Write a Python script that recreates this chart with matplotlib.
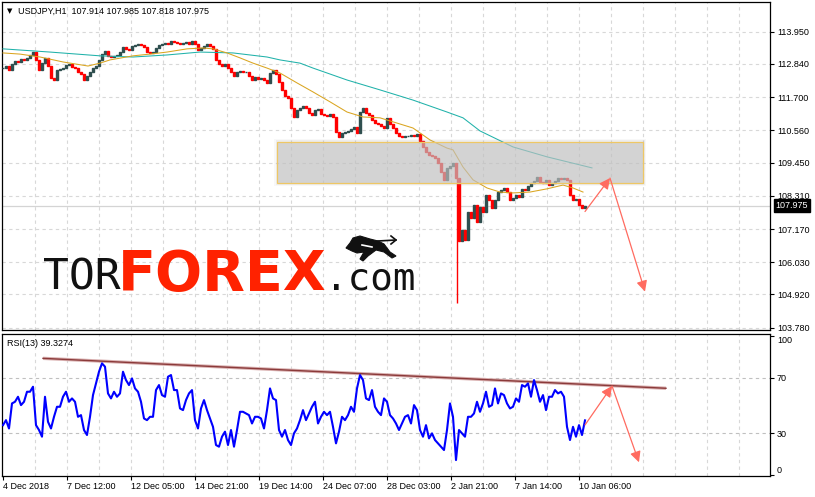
import numpy as np
import matplotlib
matplotlib.use('Agg')
import matplotlib.pyplot as plt
from matplotlib.patches import Rectangle, Polygon
from matplotlib.lines import Line2D

plt.rcParams['font.family'] = ['Liberation Sans', 'DejaVu Sans']

# USDJPY H1 closes, one reading every 3 bars (4 Dec 2018 -> 10 Jan 2019)
bar_step = 3
closes = [
    112.70, 112.77, 112.63, 112.84, 112.94, 112.91, 113.01, 112.98, 113.05, 113.15,
    113.25, 112.98, 112.63, 112.87, 113.05, 112.77, 112.36, 112.29, 112.63, 112.67,
    112.70, 112.81, 112.84, 112.74, 112.70, 112.57, 112.50, 112.29, 112.43, 112.57,
    112.70, 112.77, 112.98, 113.18, 113.29, 113.12, 113.08, 113.12, 113.15, 113.25,
    113.43, 113.36, 113.32, 113.46, 113.49, 113.53, 113.49, 113.43, 113.25, 113.22,
    113.25, 113.39, 113.49, 113.53, 113.56, 113.53, 113.63, 113.60, 113.56, 113.53,
    113.56, 113.60, 113.53, 113.63, 113.53, 113.32, 113.39, 113.46, 113.53, 113.46,
    113.36, 112.98, 112.84, 112.77, 112.84, 112.70, 112.57, 112.43, 112.57, 112.60,
    112.57, 112.57, 112.43, 112.29, 112.39, 112.33, 112.36, 112.29, 112.19, 112.53,
    112.63, 112.50, 112.22, 111.95, 111.74, 111.67, 111.33, 111.02, 111.26, 111.33,
    111.40, 111.33, 111.16, 111.09, 111.26, 111.29, 111.12, 111.09, 111.05, 111.12,
    111.02, 110.50, 110.33, 110.47, 110.50, 110.54, 110.61, 110.68, 110.47, 111.19,
    111.33, 111.16, 111.09, 110.92, 110.81, 110.78, 110.71, 110.64, 110.99, 110.78,
    110.64, 110.47, 110.37, 110.33, 110.37, 110.37, 110.40, 110.37, 110.44, 110.20,
    109.99, 109.82, 109.71, 109.68, 109.61, 109.44, 109.13, 108.86, 109.27, 109.34,
    109.44, 108.92, 106.75, 107.14, 106.79, 107.76, 107.55, 108.00, 107.41, 107.93,
    107.76, 108.34, 108.17, 107.89, 108.17, 108.44, 108.51, 108.58, 108.44, 108.17,
    108.24, 108.34, 108.27, 108.55, 108.51, 108.65, 108.75, 108.82, 108.96, 108.79,
    108.75, 108.86, 108.68, 108.75, 108.82, 108.92, 108.89, 108.92, 108.86, 108.34,
    108.17, 108.20, 108.00, 107.89, 107.975]

# 3 Jan flash crash: bar and its low
crash_bar = 454
crash_high = 108.92
crash_low = 104.63

# RSI(13), same sampling
rsi13 = [
    35.9, 39.5, 33.5, 51.5, 52.7, 56.3, 50.3, 52.7, 59.9, 59.9,
    63.5, 35.9, 32.4, 27.6, 56.3, 38.3, 33.5, 41.9, 49.1, 49.1,
    56.3, 59.9, 52.7, 55.1, 52.7, 41.9, 43.1, 32.4, 28.8, 41.9,
    57.5, 65.9, 74.3, 80.3, 77.9, 58.7, 55.1, 59.9, 56.3, 58.7,
    74.3, 68.3, 64.7, 69.5, 62.3, 59.9, 52.7, 40.7, 39.5, 41.9,
    41.9, 61.1, 64.7, 57.5, 56.3, 70.7, 71.9, 61.1, 61.1, 47.9,
    46.7, 53.9, 58.7, 61.1, 39.5, 33.5, 47.9, 53.9, 46.7, 40.7,
    34.7, 21.6, 20.4, 27.6, 31.2, 21.6, 32.4, 20.4, 32.4, 45.5,
    45.5, 44.3, 43.1, 37.1, 41.9, 41.9, 40.7, 33.5, 46.7, 62.3,
    55.1, 53.9, 32.4, 27.6, 32.4, 25.2, 21.6, 30.0, 33.5, 39.5,
    46.7, 39.5, 44.3, 49.1, 52.7, 37.1, 41.9, 45.5, 43.1, 45.5,
    34.7, 22.8, 31.2, 41.9, 39.5, 43.1, 49.1, 45.5, 62.3, 71.9,
    68.3, 55.1, 53.9, 61.1, 49.1, 45.5, 43.1, 55.1, 52.7, 43.1,
    40.7, 37.1, 32.4, 37.1, 41.9, 43.1, 37.1, 50.3, 46.7, 32.4,
    27.6, 35.9, 26.4, 30.0, 25.2, 22.8, 20.4, 18.0, 32.4, 51.5,
    41.9, 10.8, 32.4, 30.0, 27.6, 41.9, 41.9, 44.3, 52.7, 45.5,
    51.5, 59.9, 49.1, 50.3, 62.3, 51.5, 58.7, 57.5, 51.5, 47.9,
    49.1, 55.1, 52.7, 64.7, 63.5, 65.9, 56.3, 68.3, 61.1, 52.7,
    57.5, 46.7, 56.3, 56.3, 61.1, 58.7, 59.9, 56.3, 34.7, 25.2,
    34.7, 27.6, 35.9, 28.8, 39.33]

# moving averages (bar index, price)
ma_fast_bars = [0, 17, 37, 60, 85, 97, 107, 130, 147, 164, 184, 200, 210, 224, 237,
                250, 264, 277, 294, 310, 327, 344, 360, 377, 394, 410, 427, 444, 450,
                460, 470, 484, 497, 510, 527, 544, 560, 570, 580]
ma_fast = [113.22, 113.18, 113.08, 112.91, 112.77, 112.87, 112.98, 113.12, 113.18, 113.25,
           113.36, 113.39, 113.36, 113.22, 113.05, 112.87, 112.70, 112.53, 112.19, 111.88,
           111.54, 111.19, 111.02, 110.99, 110.81, 110.64, 110.23, 109.95, 109.89, 109.30,
           108.86, 108.58, 108.44, 108.41, 108.44, 108.55, 108.68, 108.58, 108.44]
ma_slow_bars = [0, 47, 97, 130, 164, 197, 230, 264, 277, 297, 310, 344, 377, 410, 444,
                460, 477, 510, 544, 589]
ma_slow = [113.36, 113.25, 113.12, 113.08, 113.15, 113.25, 113.22, 113.08, 112.98, 112.87,
           112.70, 112.29, 111.95, 111.60, 111.19, 110.99, 110.54, 109.99, 109.65, 109.27]

price_ticks = [113.950, 112.840, 111.700, 110.560, 109.450, 108.310, 107.170, 106.030,
               104.920, 103.780]
rsi_ticks = [0, 30, 70, 100]
time_labels = ['4 Dec 2018', '7 Dec 12:00', '12 Dec 05:00', '14 Dec 21:00', '19 Dec 14:00',
               '24 Dec 07:00', '28 Dec 03:00', '2 Jan 21:00', '7 Jan 14:00', '10 Jan 06:00']
label_every = 64
last_price = 107.975
last_rsi = 39.3274
ohlc_text = '107.914 107.985 107.818 107.975'

# drawn objects
zone = (274, 640, 108.74, 110.17)          # bar from, bar to, low, high
price_path = [(582, 107.77), (607, 108.92), (642, 105.02)]
rsi_path = [(582, 36.0), (609, 64.0), (636, 9.2)]
rsi_trend = [(40, 83.9), (663, 62.4)]

W, H = 815, 497
fig = plt.figure(figsize=(W / 100, H / 100), dpi=100)


def px_axes(l, t, r, b):
    return fig.add_axes([l / W, 1 - b / H, (r - l) / W, (b - t) / H])


def fx(x):
    return x / W


def fy(y):
    return 1 - y / H


ax = px_axes(2, 2, 770, 330)
ax2 = px_axes(2, 334, 770, 476)

grid_kw = dict(color='#d8d8d8', lw=0.8, ls=(0, (3, 3)), zorder=0)
for a in (ax, ax2):
    a.set_xlim(-1, 767)
    for gx in range(32, 768, 32):
        a.axvline(gx, **grid_kw)
    for s in a.spines.values():
        s.set_linewidth(0.9)
        s.set_color('black')

# ---- price panel
ax.set_ylim(103.70, 114.97)
for p in price_ticks:
    ax.axhline(p, **grid_kw)
ax.axhline(last_price, color='#d4d4d4', lw=0.9, zorder=1)

x = np.arange(len(closes)) * bar_step
c = np.array(closes)
o = np.r_[c[0], c[:-1]]
cols = np.where(c >= o, '#2F4F4F', '#FF0000')
ax.bar(x, np.abs(c - o), bottom=np.minimum(o, c), width=2.0, color=cols,
       edgecolor=cols, linewidth=1.0, zorder=3)
ax.vlines(crash_bar, crash_low, crash_high, color='#FF0000', lw=1.0, zorder=3)

ax.plot(ma_slow_bars, ma_slow, color='#20B2AA', lw=0.75, zorder=4)
ax.plot(ma_fast_bars, ma_fast, color='#DAA520', lw=0.75, zorder=4)

# zone with a soft shadow around it
zx0, zx1, zlo, zhi = zone
for pad_b, pad_p, al in ((3, 0.10, 0.06), (1.5, 0.05, 0.10)):
    ax.add_patch(Rectangle((zx0 - pad_b, zlo - pad_p), zx1 - zx0 + 2 * pad_b,
                           zhi - zlo + 2 * pad_p, facecolor='#909090', alpha=al,
                           edgecolor='none', zorder=5))
ax.add_patch(Rectangle((zx0, zlo), zx1 - zx0, zhi - zlo,
                       facecolor='#c4c4c4', alpha=0.62, edgecolor='none', zorder=5))
ax.add_patch(Rectangle((zx0, zlo), zx1 - zx0, zhi - zlo,
                       facecolor='none', edgecolor='#EEC765', lw=0.9, zorder=5))

arrow_col = '#FF6B60'
def draw_path(a, pts):
    for (x0, y0), (x1, y1) in zip(pts[:-1], pts[1:]):
        a.annotate('', xy=(x1, y1), xytext=(x0, y0),
                   arrowprops=dict(arrowstyle='-|>', color=arrow_col, lw=0.9,
                                   mutation_scale=16, shrinkA=0, shrinkB=0),
                   zorder=6, annotation_clip=False)

draw_path(ax, price_path)

ax.set_xticks([])
ax.yaxis.tick_right()
ax.set_yticks(price_ticks)
ax.set_yticklabels(['%.3f' % p for p in price_ticks], fontsize=6.5)
ax.tick_params(axis='y', direction='out', length=3, width=0.8, pad=2)

ax.annotate('%.3f' % last_price, xy=(1, last_price), xycoords=('axes fraction', 'data'),
            xytext=(4, 0), textcoords='offset points', ha='left', va='center',
            fontsize=6.5, color='white', annotation_clip=False,
            bbox=dict(boxstyle='square,pad=0.2', fc='black', ec='black'))

# ---- RSI panel
ax2.set_ylim(-0.65, 101.4)
for lv in (30, 70):
    ax2.axhline(lv, color='#c0c0c0', lw=0.8, ls=(0, (3, 3)), zorder=0)
xr = np.arange(len(rsi13)) * bar_step
ax2.plot(xr, rsi13, color='#0000FF', lw=1.5, zorder=3)
tx, ty = zip(*rsi_trend)
ax2.plot(tx, ty, color='#d9b0b0', lw=2.4, zorder=2, solid_capstyle='butt')
ax2.plot(tx, ty, color='#8B3A3A', lw=1.0, zorder=2)
draw_path(ax2, rsi_path)

ax2.yaxis.tick_right()
ax2.set_yticks(rsi_ticks)
lbls = ax2.set_yticklabels([str(v) for v in rsi_ticks], fontsize=6.5)
lbls[0].set_va('bottom')
lbls[-1].set_va('top')
ax2.tick_params(axis='y', direction='out', length=3, width=0.8, pad=2)

ax2.set_xticks(np.arange(len(time_labels)) * label_every)
ax2.set_xticklabels(time_labels, ha='left', fontsize=6.5)
ax2.tick_params(axis='x', direction='out', length=3, width=0.8, pad=1)

# ---- header texts
fig.text(fx(7), fy(11), '\u25bc', family='DejaVu Sans', fontsize=5, va='center')
fig.text(fx(18), fy(11), 'USDJPY,H1  ' + ohlc_text, fontsize=6.5, va='center')
fig.text(fx(7), fy(343), 'RSI(13) %.4f' % last_rsi, fontsize=6.5, va='center')

# ---- watermark
fig.text(fx(43), fy(289), 'TOR', family='DejaVu Sans Mono', fontsize=31,
         color='#111111', va='baseline')
fig.text(fx(118), fy(290), 'FOREX', family='DejaVu Sans', weight='bold', fontsize=40,
         color='#FF2200', va='baseline')
fig.text(fx(325), fy(289), '.com', family='DejaVu Sans Mono', fontsize=27,
         color='#111111', va='baseline')

# little bull above ".com"
bull_body = [(346, 248), (350, 243), (353, 238), (360, 236), (370, 239), (378, 241),
             (384, 244), (390, 252), (396, 256), (392, 258), (384, 252), (376, 250),
             (368, 256), (363, 261), (360, 259), (364, 252), (357, 253), (352, 251)]
fig.add_artist(Polygon([(fx(a), fy(b)) for a, b in bull_body], closed=True,
                       facecolor='#111111', edgecolor='#111111', lw=0.8,
                       transform=fig.transFigure))
bull_tail = [[(378, 241), (396, 240)], [(391, 236), (396, 240), (391, 244)],
             [(362, 245), (372, 247)]]
for k, seg in enumerate(bull_tail):
    sx, sy = zip(*seg)
    fig.add_artist(Line2D([fx(v) for v in sx], [fy(v) for v in sy],
                          color='white' if k == 2 else '#111111', lw=1.2,
                          transform=fig.transFigure))

fig.savefig('out.png', dpi=100)
